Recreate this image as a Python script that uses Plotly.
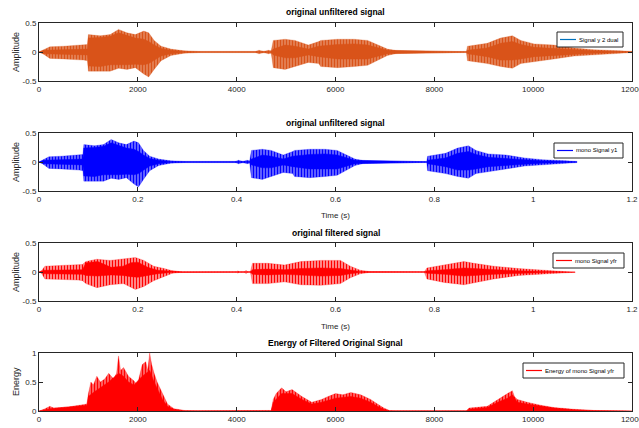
import plotly.graph_objects as go

# ---------------- data ----------------
FS = 11025  # sample rate used for the time axes

# panels 1 / 2 : peak envelope of the unfiltered signal (sample index, upper, lower)
sig_samples = [0, 80, 220, 500, 900, 980, 1000, 1240, 1440, 1610, 1780, 1950, 2120, 2220, 2330,
               2470, 2670, 2940, 3300, 4370, 4450, 4550, 4640, 4700, 4740, 4980, 5180, 5450, 5660,
               5700, 6040, 6380, 6650, 6920, 7050, 7250, 7730, 7800, 7900, 8650, 8670, 9070, 9340,
               9580, 9750, 10020, 10420, 10830, 11230, 11770, 12000]
sig_upper = [0, 0.03, 0.09, 0.1, 0.12, 0.13, 0.3, 0.28, 0.3, 0.39, 0.33, 0.3, 0.36, 0.33, 0.2,
             0.1, 0.05, 0.02, 0.006, 0.005, 0.03, 0.01, 0.03, 0.02, 0.2, 0.22, 0.2, 0.12, 0.18,
             0.2, 0.22, 0.22, 0.2, 0.1, 0.05, 0.02, 0.01, 0.02, 0.01, 0.01, 0.1, 0.15, 0.24,
             0.28, 0.2, 0.14, 0.12, 0.07, 0.04, 0.02, 0.01]
sig_lower = [0, -0.03, -0.11, -0.12, -0.14, -0.15, -0.33, -0.33, -0.33, -0.28, -0.3, -0.27, -0.38, -0.43, -0.3,
             -0.15, -0.06, -0.02, -0.006, -0.005, -0.03, -0.01, -0.03, -0.02, -0.27, -0.3, -0.25, -0.18, -0.2,
             -0.25, -0.27, -0.25, -0.23, -0.12, -0.06, -0.02, -0.01, -0.02, -0.01, -0.01, -0.15, -0.2, -0.25,
             -0.28, -0.2, -0.17, -0.12, -0.07, -0.04, -0.02, -0.01]

# panels 1 / 2 : dense (solid) core of the unfiltered signal
core_samples = [0, 100, 980, 1000, 1240, 1440, 1610, 1780, 1950, 2120, 2220, 2330, 2470, 2670, 2940,
                4700, 4740, 4980, 5180, 5450, 5660, 6040, 6380, 6650, 6920, 7050, 8650, 8670, 9070,
                9340, 9580, 9750, 10020, 10420, 10830, 11230, 12000]
core_upper = [0, 0.03, 0.05, 0.24, 0.25, 0.27, 0.33, 0.28, 0.24, 0.22, 0.18, 0.12, 0.06, 0.03, 0.01,
              0.01, 0.05, 0.12, 0.1, 0.05, 0.1, 0.13, 0.14, 0.12, 0.06, 0.03, 0.005, 0.03, 0.07,
              0.15, 0.18, 0.13, 0.08, 0.06, 0.04, 0.02, 0.005]
core_lower = [0, -0.03, -0.05, -0.24, -0.25, -0.22, -0.22, -0.22, -0.21, -0.22, -0.2, -0.14, -0.07, -0.03, -0.01,
              -0.01, -0.05, -0.1, -0.1, -0.05, -0.08, -0.12, -0.12, -0.12, -0.06, -0.03, -0.005, -0.03, -0.08,
              -0.14, -0.14, -0.12, -0.08, -0.06, -0.04, -0.02, -0.005]

# panel 3 : peak envelope of the filtered signal (time in s, upper, lower)
filt_time = [0, 0.005, 0.012, 0.05, 0.08, 0.088, 0.095, 0.117, 0.144, 0.171, 0.195, 0.212, 0.232, 0.253,
             0.27, 0.29, 0.40, 0.402, 0.405, 0.416, 0.419, 0.422, 0.428, 0.432, 0.463, 0.497, 0.53, 0.57,
             0.61, 0.63, 0.65, 0.67, 0.78, 0.785, 0.82, 0.86, 0.88, 0.92, 0.97, 1.03, 1.085]
filt_upper = [0, 0.02, 0.1, 0.11, 0.12, 0.13, 0.18, 0.22, 0.2, 0.22, 0.25, 0.2, 0.1, 0.06,
              0.02, 0.004, 0.003, 0.02, 0.003, 0.004, 0.03, 0.004, 0.005, 0.15, 0.15, 0.12, 0.18, 0.2,
              0.2, 0.1, 0.03, 0.005, 0.005, 0.07, 0.12, 0.18, 0.15, 0.1, 0.06, 0.03, 0.005]
filt_lower = [0, -0.02, -0.12, -0.13, -0.14, -0.15, -0.2, -0.27, -0.22, -0.2, -0.3, -0.25, -0.15, -0.08,
              -0.02, -0.004, -0.003, -0.02, -0.003, -0.004, -0.03, -0.004, -0.005, -0.2, -0.2, -0.17, -0.22, -0.23,
              -0.2, -0.1, -0.03, -0.005, -0.005, -0.12, -0.18, -0.22, -0.18, -0.12, -0.06, -0.03, -0.005]

# panel 3 : dense core of the filtered signal
fcore_time = [0, 0.01, 0.088, 0.095, 0.119, 0.146, 0.17, 0.186, 0.2, 0.22, 0.24, 0.267, 0.29, 0.428,
              0.432, 0.463, 0.497, 0.53, 0.57, 0.61, 0.63, 0.65, 0.78, 0.785, 0.82, 0.86, 0.88, 0.92,
              0.97, 1.03, 1.085]
fcore_upper = [0, 0.03, 0.04, 0.16, 0.18, 0.08, 0.1, 0.16, 0.17, 0.08, 0.03, 0.01, 0.003, 0.003,
               0.04, 0.05, 0.04, 0.06, 0.07, 0.06, 0.03, 0.01, 0.003, 0.02, 0.04, 0.07, 0.06, 0.04,
               0.02, 0.01, 0.003]
fcore_lower = [0, -0.03, -0.04, -0.06, -0.07, -0.05, -0.06, -0.08, -0.09, -0.06, -0.03, -0.01, -0.003, -0.003,
               -0.04, -0.05, -0.04, -0.06, -0.07, -0.06, -0.03, -0.01, -0.003, -0.02, -0.04, -0.07, -0.06, -0.04,
               -0.02, -0.01, -0.003]

# panel 4 : energy of the filtered signal, spike peaks (sample index, energy)
energy_samples = [0, 100, 220, 300, 600, 970, 1000, 1050, 1100, 1170, 1240, 1330, 1410, 1510, 1570, 1610,
                  1650, 1710, 1810, 1920, 1990, 2090, 2160, 2200, 2240, 2280, 2330, 2390, 2500, 2600,
                  2730, 2940, 3200, 4570, 4700, 4740, 4800, 4910, 5000, 5120, 5320, 5520, 5720, 5850,
                  6000, 6150, 6310, 6510, 6710, 6850, 6980, 7090, 7200, 8650, 8700, 9070, 9280, 9480,
                  9580, 9620, 9680, 9880, 10150, 10420, 10830, 11230, 11800, 12000]
energy_values = [0, 0.03, 0.08, 0.05, 0.07, 0.12, 0.3, 0.5, 0.45, 0.6, 0.5, 0.55, 0.65, 0.55, 0.65, 0.95,
                 0.7, 0.75, 0.6, 0.52, 0.45, 0.8, 0.85, 0.7, 1.0, 0.8, 0.65, 0.5, 0.3, 0.12,
                 0.04, 0.01, 0.003, 0.003, 0.01, 0.2, 0.3, 0.4, 0.33, 0.37, 0.25, 0.15, 0.2, 0.25,
                 0.3, 0.28, 0.32, 0.28, 0.2, 0.12, 0.05, 0.01, 0.003, 0.003, 0.05, 0.08, 0.2, 0.3,
                 0.35, 0.25, 0.2, 0.15, 0.1, 0.06, 0.03, 0.01, 0.003, 0]

# panel 4 : dense core of the energy
ecore_samples = [0, 220, 970, 1000, 1100, 1240, 1410, 1610, 1710, 1810, 1920, 2090, 2160, 2240, 2330,
                 2500, 2600, 2730, 2940, 4700, 4740, 4910, 5120, 5320, 5520, 5720, 6000, 6310, 6510,
                 6710, 6850, 6980, 7090, 8650, 8700, 9070, 9280, 9480, 9580, 9680, 9880, 10150, 10420,
                 10830, 11230, 12000]
ecore_values = [0, 0.04, 0.1, 0.25, 0.32, 0.4, 0.5, 0.65, 0.6, 0.5, 0.45, 0.6, 0.65, 0.7, 0.5,
                0.2, 0.08, 0.03, 0.005, 0.005, 0.15, 0.3, 0.3, 0.2, 0.12, 0.15, 0.22, 0.25, 0.22,
                0.15, 0.08, 0.03, 0.005, 0.003, 0.03, 0.06, 0.15, 0.22, 0.28, 0.15, 0.12, 0.08, 0.05,
                0.02, 0.008, 0]

sample_ticks = [0, 2000, 4000, 6000, 8000, 10000, 12000]
time_ticks = [0, 0.2, 0.4, 0.6, 0.8, 1.0, 1.2]
time_tick_text = ["0", "0.2", "0.4", "0.6", "0.8", "1", "1.2"]
amp_ticks = [-0.5, 0, 0.5]
amp_tick_text = ["-0.5", "0", "0.5"]
energy_ticks = [0, 0.5, 1]
energy_tick_text = ["0", "0.5", "1"]

titles = ["original unfiltered signal", "original unfiltered signal",
          "original filtered signal", "Energy of Filtered Original Signal"]
legend_names = ["Signal y 2 dual", "mono Signal y1", "mono Signal yfr", "Energy of mono Signal yfr"]

# ---------------- styling ----------------
W, H = 639, 428
ORANGE = "#D95319"
MBLUE = "#0072BD"
BLUE = "#0000FF"
RED = "#FF0000"
AX = "#262626"
FONT = "Liberation Sans, Arial, sans-serif"

x0, x1 = 39, 632                                   # screen px of plot area
panels_px = [(23, 81), (133, 191), (243, 301), (353, 411)]


def py(p):
    return 1 - p / H


def px(p):
    return p / W


def light(hexc, a):
    r, g, b = int(hexc[1:3], 16), int(hexc[3:5], 16), int(hexc[5:7], 16)
    return f"rgba({r},{g},{b},{a})"


fig = go.Figure()


def axes(i):
    sfx = "" if i == 1 else str(i)
    return "x" + sfx, "y" + sfx


def style(color, streaky, solidity, bg_alpha):
    kw = {}
    if streaky:
        kw["fillcolor"] = light(color, bg_alpha)
        kw["fillpattern"] = dict(shape="|", size=3, solidity=solidity, fgcolor=color,
                                 bgcolor=light(color, bg_alpha), fillmode="replace")
        line = dict(color=light(color, 0.5), width=0.5)
    else:
        kw["fillcolor"] = color
        line = dict(color=color, width=0.5)
    return kw, line


def band(x, up, lo, color, i, streaky, solidity=0.5, bg_alpha=0.3):
    xs = list(x) + list(x)[::-1]
    ys = list(up) + list(lo)[::-1]
    xa, ya = axes(i)
    kw, line = style(color, streaky, solidity, bg_alpha)
    fig.add_trace(go.Scatter(x=xs, y=ys, fill="toself", mode="lines", line=line,
                             showlegend=False, xaxis=xa, yaxis=ya, hoverinfo="skip", **kw))


def area(x, y, color, i, streaky, solidity=0.5, bg_alpha=0.3):
    xa, ya = axes(i)
    kw, line = style(color, streaky, solidity, bg_alpha)
    fig.add_trace(go.Scatter(x=x, y=y, fill="tozeroy", mode="lines", line=line,
                             showlegend=False, xaxis=xa, yaxis=ya, hoverinfo="skip", **kw))


# panel 1
band(sig_samples, sig_upper, sig_lower, ORANGE, 1, True, 0.72, 0.45)
band(core_samples, core_upper, core_lower, ORANGE, 1, False)
# panel 2
sig_time = [s / FS for s in sig_samples]
core_time = [s / FS for s in core_samples]
band(sig_time, sig_upper, sig_lower, BLUE, 2, True, 0.62, 0.35)
band(core_time, core_upper, core_lower, BLUE, 2, False)
# panel 3
band(filt_time, filt_upper, filt_lower, RED, 3, True, 0.5, 0.3)
band(fcore_time, fcore_upper, fcore_lower, RED, 3, False)
# panel 4
area(energy_samples, energy_values, RED, 4, True, 0.6, 0.4)
area(ecore_samples, ecore_values, RED, 4, False)

layout = dict(width=W, height=H, autosize=False, margin=dict(l=0, r=0, t=0, b=0, pad=0),
              paper_bgcolor="white", plot_bgcolor="white", showlegend=False,
              font=dict(family=FONT, color=AX))

for i, (top, bot) in enumerate(panels_px, start=1):
    sfx = "" if i == 1 else str(i)
    if i in (1, 4):
        xr, xt, xtt = [0, 12000], sample_ticks, [str(v) for v in sample_ticks]
    else:
        xr, xt, xtt = [0, 1.2], time_ticks, time_tick_text
    if i == 4:
        yr, yt, ytt = [0, 1], energy_ticks, energy_tick_text
    else:
        yr, yt, ytt = [-0.5, 0.5], amp_ticks, amp_tick_text
    common = dict(showline=True, linecolor=AX, linewidth=1, mirror="ticks", ticks="inside",
                  ticklen=4, tickcolor=AX, showgrid=False, zeroline=False, automargin=False,
                  ticklabeloverflow="allow",
                  tickfont=dict(size=8, color=AX, family=FONT))
    layout["xaxis" + sfx] = dict(domain=[px(x0), px(x1)], range=xr, tickvals=xt, ticktext=xtt,
                                anchor="y" + sfx, **common)
    layout["yaxis" + sfx] = dict(domain=[py(bot), py(top)], range=yr, tickvals=yt, ticktext=ytt,
                                anchor="x" + sfx, **common)

fig.update_layout(**layout)

# legends (MATLAB style boxes): (left, top, right, bottom, line start, line end) in screen px
legend_boxes = [(557, 32, 623, 47, 560, 576),
                (554, 143, 623, 158, 557, 573),
                (553, 253, 624, 268, 556, 572),
                (523, 363, 624, 378, 526, 542)]
legend_colors = [MBLUE, BLUE, RED, RED]
for (l, t, r, b, ls, le), name, col in zip(legend_boxes, legend_names, legend_colors):
    fig.add_shape(type="rect", xref="paper", yref="paper", x0=px(l), x1=px(r), y0=py(b), y1=py(t),
                  line=dict(color=AX, width=1), fillcolor="white", layer="above")
    ym = (t + b) / 2
    fig.add_shape(type="line", xref="paper", yref="paper", x0=px(ls), x1=px(le), y0=py(ym), y1=py(ym),
                  line=dict(color=col, width=1.2), layer="above")
    fig.add_annotation(x=px(le + 1), y=py(ym), xref="paper", yref="paper", text=name,
                       showarrow=False, xanchor="left", yanchor="middle",
                       font=dict(size=6, family=FONT, color="black"))

# titles and axis labels
title_y = [12, 123, 233, 343]
for t, yv in zip(titles, title_y):
    fig.add_annotation(x=px((x0 + x1) / 2), y=py(yv), xref="paper", yref="paper", text="<b>" + t + "</b>",
                       showarrow=False, font=dict(size=8.5, family=FONT, color="black"),
                       xanchor="center", yanchor="middle")

ylabels = ["Amplitude", "Amplitude", "Amplitude", "Energy"]
for lab, (top, bot) in zip(ylabels, panels_px):
    fig.add_annotation(x=px(16), y=py((top + bot) / 2), xref="paper", yref="paper", text=lab,
                       textangle=-90, showarrow=False, font=dict(size=9, family=FONT, color=AX),
                       xanchor="center", yanchor="middle")

for yv in (216, 326):
    fig.add_annotation(x=px((x0 + x1) / 2), y=py(yv), xref="paper", yref="paper", text="Time (s)",
                       showarrow=False, font=dict(size=8, family=FONT, color=AX),
                       xanchor="center", yanchor="middle")

# fixed-size figure placed at the window origin (no page margin, no resizing, no mode bar)
fig.write_html("out.html",
               config={"responsive": False, "displayModeBar": False},
               post_script="document.body.style.margin='0';document.body.style.overflow='hidden';")
